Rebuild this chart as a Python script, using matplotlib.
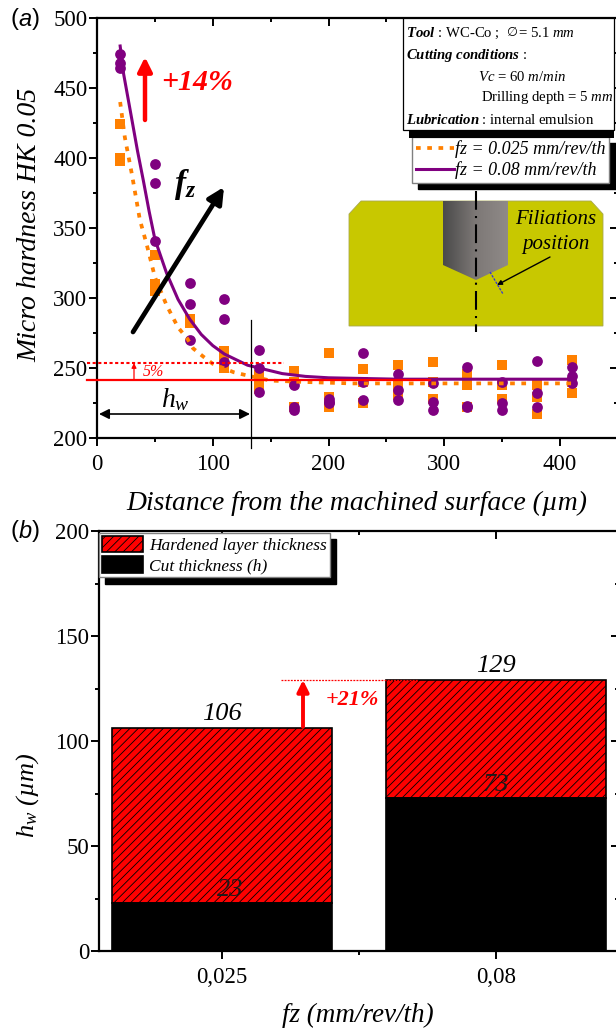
"""Micro hardness profiles and hardened layer thickness, two stacked panels."""

import numpy as np
import matplotlib
matplotlib.use("Agg")
import matplotlib.pyplot as plt
from matplotlib.colors import LinearSegmentedColormap
from matplotlib.patches import FancyArrowPatch, Polygon, Rectangle

plt.rcParams["font.family"] = ["Liberation Serif", "DejaVu Sans"]
plt.rcParams["mathtext.fontset"] = "custom"
plt.rcParams["mathtext.rm"] = "Liberation Serif"
plt.rcParams["mathtext.it"] = "Liberation Serif:italic"
plt.rcParams["mathtext.bf"] = "Liberation Serif:bold"
plt.rcParams["mathtext.bfit"] = "Liberation Serif:italic:bold"
plt.rcParams["hatch.linewidth"] = 0.6

W, H = 616, 1032
ORANGE = "#ff8000"
PURPLE = "#800080"
RED = "#ff0000"
YELLOW = "#c8c800"

# panel (a): measured points
pts_x = [20, 50, 80, 110, 140, 170, 200, 230, 260, 290, 320, 350, 380, 410]
orange_pts = [
    [398, 400, 424], [305, 310, 331], [282, 285, 285], [250, 255, 262],
    [235, 240, 245], [222, 240, 248], [222, 229, 261], [225, 240, 249],
    [231, 238, 252], [228, 240, 254], [222, 238, 246], [228, 238, 252],
    [217, 229, 238], [232, 240, 256],
]
purple_pts = [
    [464, 468, 474], [341, 382, 396], [270, 296, 311], [254, 285, 299],
    [233, 250, 263], [220, 222, 238], [225, 226, 228], [227, 240, 261],
    [227, 234, 246], [220, 226, 239], [222, 223, 251], [220, 225, 240],
    [222, 232, 255], [239, 244, 251],
]

# panel (a): fitted curves
orange_cx = [20, 24, 30, 37, 43, 50, 60, 70, 78, 83, 92, 100, 118, 128, 150, 180, 220, 300, 410]
orange_cy = [440, 415, 389, 356, 338, 315, 295, 279, 271, 264, 258, 253, 247, 245, 241, 240, 239, 239, 239]
purple_cx = [20, 23, 30, 35, 40, 45, 50, 60, 70, 80, 90, 100, 110, 120, 130, 140, 160, 180, 200, 230, 260, 410]
purple_cy = [480, 460, 428, 405, 384, 362, 342, 318, 299, 285, 274, 266, 260, 256, 252, 250, 246, 244, 243, 242.5, 242, 242]

# panel (b)
feed_labels = ["0,025", "0,08"]
cut_thickness = [23, 73]
hardened_top = [106, 129]


def px_axes(fig, left, top, right, bottom):
    return fig.add_axes([left / W, 1 - bottom / H, (right - left) / W, (bottom - top) / H])


def style_axis(ax):
    # ticks stick out on left/bottom, and point inward on top/right
    for side in ax.spines.values():
        side.set_linewidth(1.6)
    ax.tick_params(which="major", length=5.5, width=1.4, labelsize=16.5)
    ax.tick_params(axis="y", which="major", pad=1.5)
    ax.tick_params(axis="x", which="major", pad=6)
    ax.tick_params(which="minor", length=3, width=1.4)


def mirror_ticks(ax, xmajor, xminor, ymajor, yminor):
    top = ax.secondary_xaxis("top")
    top.set_xticks(xmajor)
    top.set_xticks(xminor, minor=True)
    top.tick_params(which="major", direction="in", length=5.5, width=1.4, labeltop=False)
    top.tick_params(which="minor", direction="in", length=3, width=1.4)
    right = ax.secondary_yaxis("right")
    right.set_yticks(ymajor)
    right.set_yticks(yminor, minor=True)
    right.tick_params(which="major", direction="in", length=5.5, width=1.4, labelright=False)
    right.tick_params(which="minor", direction="in", length=3, width=1.4)
    top.spines["top"].set_linewidth(1.6)
    right.spines["right"].set_linewidth(1.6)


def arrow(ov, start, end, color, lw, size, style="-|>"):
    ov.add_patch(FancyArrowPatch(start, end, arrowstyle=style, mutation_scale=size,
                                 color=color, lw=lw, shrinkA=0, shrinkB=0, zorder=6))


fig = plt.figure(figsize=(W / 100, H / 100), dpi=100)

# ---- panel (a)
ax = px_axes(fig, 97, 18, 618, 438)
ax.set_xlim(0, 450)
ax.set_ylim(200, 500)
for x, ys in zip(pts_x, orange_pts):
    ax.scatter([x] * len(ys), ys, marker="s", s=52, color=ORANGE, linewidths=0, zorder=2)
for x, ys in zip(pts_x, purple_pts):
    ax.scatter([x] * len(ys), ys, marker="o", s=60, color=PURPLE, linewidths=0, zorder=3)
line_o, = ax.plot(orange_cx, orange_cy, color=ORANGE, lw=2.7, ls=(0, (1.25, 1.75)),
                  label="fz = 0.025 mm/rev/th", zorder=4)
line_p, = ax.plot(purple_cx, purple_cy, color=PURPLE, lw=2.2,
                  label="fz = 0.08 mm/rev/th", zorder=6)
ax.set_xticks([0, 100, 200, 300, 400])
ax.set_xticks([50, 150, 250, 350, 450], minor=True)
ax.set_yticks(np.arange(200, 501, 50))
ax.set_yticks(np.arange(225, 500, 50), minor=True)
style_axis(ax)
mirror_ticks(ax, [0, 100, 200, 300, 400], [50, 150, 250, 350, 450],
             np.arange(200, 501, 50), np.arange(225, 500, 50))
ax.spines["top"].set_visible(False)
ax.spines["right"].set_visible(False)
leg = ax.legend(handles=[line_o, line_p], loc="upper left",
                bbox_to_anchor=(412 / W, 1 - 137 / H), bbox_transform=fig.transFigure,
                borderaxespad=0, borderpad=0.2, labelspacing=0.15, handlelength=2.1,
                handletextpad=0.1, fancybox=False, framealpha=1, edgecolor="#808080",
                prop={"family": "Liberation Serif", "style": "italic", "size": 13},
                shadow={"color": "black", "alpha": 1, "ox": 4.5, "oy": -4.5})
leg.set_zorder(20)

# ---- panel (b)
bx = px_axes(fig, 99, 531, 619, 951)
bx.set_xlim(-0.449, 1.449)
bx.set_ylim(0, 200)
xpos = np.arange(len(feed_labels))
heights = np.array(hardened_top) - np.array(cut_thickness)
bars_red = bx.bar(xpos, heights, 0.8, bottom=cut_thickness, color=RED, edgecolor="black",
                  hatch="////", linewidth=1.2, label="Hardened layer thickness")
bars_blk = bx.bar(xpos, cut_thickness, 0.8, color="black", edgecolor="black",
                  linewidth=1.2, label="Cut thickness (h)")
bx.set_xticks(xpos, feed_labels)
bx.set_xticks([0.5], minor=True)
bx.set_yticks(np.arange(0, 201, 50))
bx.set_yticks(np.arange(25, 200, 50), minor=True)
style_axis(bx)
mirror_ticks(bx, xpos, [0.5], np.arange(0, 201, 50), np.arange(25, 200, 50))
bx.spines["top"].set_visible(False)
bx.spines["right"].set_visible(False)
for x, c, t in zip(xpos, cut_thickness, hardened_top):
    bx.text(x, t + 1.5, str(t), ha="center", va="bottom", style="italic", fontsize=19)
    bx.text(x + (0.03 if x == 0 else 0), c + 1, str(c), ha="center", va="bottom",
            style="italic", fontsize=19, color="#1a1a1a", zorder=5)
leg2 = bx.legend(handles=[bars_red, bars_blk], loc="upper left",
                 bbox_to_anchor=(99 / W, 1 - 533 / H), bbox_transform=fig.transFigure,
                 borderaxespad=0, borderpad=0.15, labelspacing=0.15, handlelength=2.4,
                 handleheight=1.1, handletextpad=0.35, fancybox=False, framealpha=1,
                 edgecolor="#808080",
                 prop={"family": "Liberation Serif", "style": "italic", "size": 12.5},
                 shadow={"color": "black", "alpha": 1, "ox": 4.5, "oy": -4.5})
leg2.set_zorder(20)

# ---- overlay in pixel coordinates, for notes and the inset sketch
ov = fig.add_axes([0, 0, 1, 1], zorder=10)
ov.set_xlim(0, W)
ov.set_ylim(H, 0)
ov.axis("off")

# axis titles
ov.text(357, 503, "Distance from the machined surface (µm)", ha="center", va="center",
        style="italic", fontsize=19.9)
ov.text(30, 225, "Micro hardness HK 0.05", ha="center", va="center", rotation=90,
        style="italic", fontsize=20)
ov.text(358, 1015, "fz (mm/rev/th)", ha="center", va="center", style="italic", fontsize=19.5)
ov.text(28, 795, r"$h_w$ (µm)", ha="center", va="center", rotation=90, style="italic", fontsize=19)

# panel letters
for y, letter in [(19, "a"), (531, "b")]:
    ov.text(10, y, "(", family="Liberation Sans", fontsize=17, va="center")
    ov.text(18.5, y, letter, family="Liberation Sans", style="italic", fontsize=17, va="center")
    ov.text(32, y, ")", family="Liberation Sans", fontsize=17, va="center")

# notes on panel (a)
arrow(ov, (145, 120), (145, 57), RED, 3.2, 21)
ov.text(161, 83, "+14%", color=RED, style="italic", weight="bold", fontsize=21.5, va="center")
arrow(ov, (133, 332), (224, 187), "black", 3.4, 24)
ov.text(174, 185, r"$\mathbfit{f_z}$", fontsize=24, va="center")
ov.plot([87, 284], [363, 363], color=RED, lw=1.5, ls=(0, (1.5, 1.2)), zorder=3)
ov.plot([87, 430], [380, 380], color=RED, lw=1.6, zorder=3)
arrow(ov, (134, 380), (134, 363), RED, 0.9, 7)
ov.text(143, 372, "5%", color=RED, style="italic", fontsize=11.5, va="center")
ov.plot([251, 251], [320, 448], color="black", lw=0.9)
arrow(ov, (99, 414), (250, 414), "black", 1.2, 15, style="<|-|>")
ov.text(161, 400, r"$h_w$", fontsize=20, va="center")

# info box
ov.add_patch(Rectangle((409, 130), 205, 8, color="black", lw=0, zorder=2))
ov.add_patch(Rectangle((402.5, 18), 211, 112, fc="white", ec="black", lw=0.9, zorder=3))
info_lines = [
    (406, 33, r"$\mathbfit{Tool}$ : WC-Co ;"),
    (518, 33, r"= 5.1 $\mathit{mm}$"),
    (406, 55, r"$\mathbfit{Cutting\ conditions}$ :"),
    (478, 77, r"$\mathit{Vc}$ = 60 $\mathit{m/min}$"),
    (481, 98, r"Drilling depth = 5 $\mathit{mm}$"),
    (406, 120, r"$\mathbfit{Lubrication}$ : internal emulsion"),
]
for x, y, s in info_lines:
    ov.text(x, y, s, fontsize=10.6, va="center", zorder=4)
ov.text(506, 33, "∅", family="DejaVu Sans", fontsize=9, va="center", zorder=4)

# inset sketch of the drilled hole
ov.add_patch(Polygon([(349, 214), (361, 201), (591, 201), (603, 214), (603, 326), (349, 326)],
                     fc=YELLOW, ec="#a8a850", lw=0.6, zorder=2))
steel = LinearSegmentedColormap.from_list("steel", ["#4a4a4a", "#7d7876", "#8f8a88"])
hole = ov.imshow(np.linspace(0, 1, 64).reshape(1, -1), cmap=steel, extent=(443, 508, 280, 201),
                 aspect="auto", zorder=3)
hole.set_clip_path(Polygon([(443, 201), (508, 201), (508, 265), (476, 280), (443, 265)],
                           transform=ov.transData))
ov.set_xlim(0, W)
ov.set_ylim(H, 0)
ov.plot([476, 476], [191, 332], color="black", lw=1.5, ls=(0, (9, 3, 1, 3)), zorder=4)
ov.plot([490, 503], [272, 294], color="#3030e0", lw=0.9, ls=(0, (2, 1)), zorder=4)
arrow(ov, (550, 257), (497, 285), "black", 1.0, 7)
ov.text(556, 220, "Filiations", style="italic", fontsize=15, ha="center", va="center", zorder=5)
ov.text(556, 245, "position", style="italic", fontsize=15, ha="center", va="center", zorder=5)

# notes on panel (b)
ov.plot([281, 418], [680, 680], color=RED, lw=0.9, ls=(0, (1.5, 1)))
arrow(ov, (303, 727), (303, 680), RED, 2.8, 17)
ov.text(352, 700, "+21%", color=RED, style="italic", weight="bold", fontsize=16, ha="center", va="center")

fig.savefig("out.png", dpi=100)
